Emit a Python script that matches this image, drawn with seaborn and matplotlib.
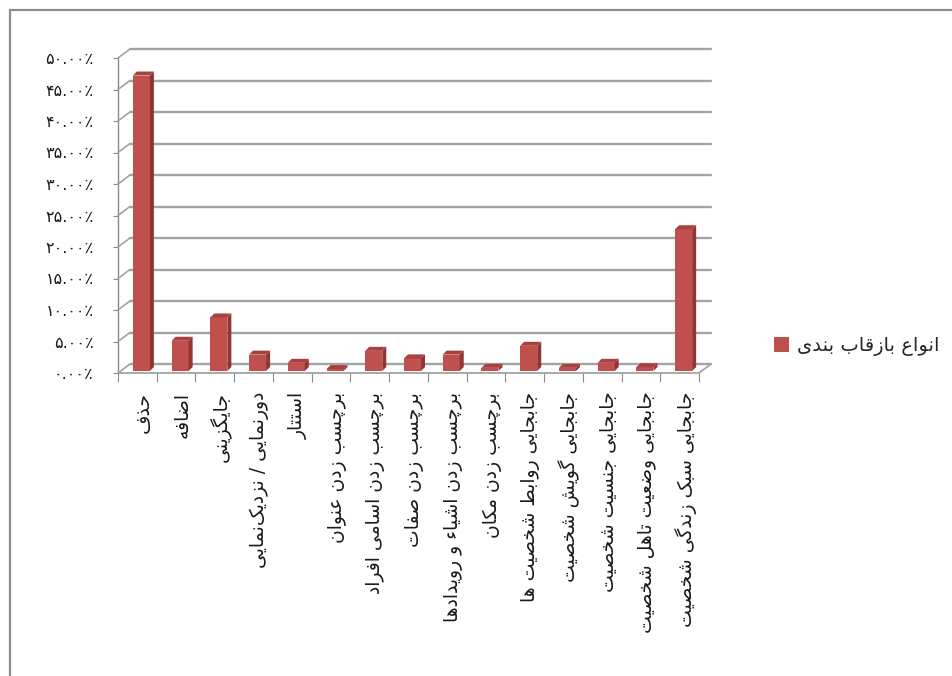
import numpy as np
import pandas as pd
import seaborn as sns
import matplotlib
matplotlib.use("Agg")
import matplotlib.pyplot as plt
from matplotlib.transforms import ScaledTranslation, IdentityTransform
from matplotlib.patches import Polygon, Rectangle, Patch
from matplotlib.ticker import FixedLocator

# ---------------- data ----------------
categories = [
    "حذف",
    "اضافه",
    "جایگزینی",
    "دورنمایی / نزدیک\u200cنمایی",
    "استتار",
    "برچسب زدن عنوان",
    "برچسب زدن اسامی افراد",
    "برچسب زدن صفات",
    "برچسب زدن اشیاء و رویدادها",
    "برچسب زدن مکان",
    "جابجایی روابط شخصیت ها",
    "جابجایی گویش شخصیت",
    "جابجایی جنسیت شخصیت",
    "جابجایی وضعیت تاهل شخصیت",
    "جابجایی سبک زندگی شخصیت",
]
values = [46.9, 4.8, 8.5, 2.6, 1.3, 0.3, 3.2, 2.0, 2.6, 0.5, 4.0, 0.5, 1.3, 0.6, 22.5]
y_ticks = [0, 5, 10, 15, 20, 25, 30, 35, 40, 45, 50]
y_tick_labels = ["۰.۰۰٪", "۵.۰۰٪", "۱۰.۰۰٪", "۱۵.۰۰٪", "۲۰.۰۰٪", "۲۵.۰۰٪",
                 "۳۰.۰۰٪", "۳۵.۰۰٪", "۴۰.۰۰٪", "۴۵.۰۰٪", "۵۰.۰۰٪"]
series_name = "انواع بازقاب بندی"

# ------------- Arabic/Persian shaping (presentation forms) -------------
# (isolated, final, initial, medial); right-joining letters have None for initial/medial
FORMS = {
    "ا": (0xFE8D, 0xFE8E, None, None),
    "ب": (0xFE8F, 0xFE90, 0xFE91, 0xFE92),
    "پ": (0xFB56, 0xFB57, 0xFB58, 0xFB59),
    "ت": (0xFE95, 0xFE96, 0xFE97, 0xFE98),
    "ج": (0xFE9D, 0xFE9E, 0xFE9F, 0xFEA0),
    "چ": (0xFB7A, 0xFB7B, 0xFB7C, 0xFB7D),
    "ح": (0xFEA1, 0xFEA2, 0xFEA3, 0xFEA4),
    "خ": (0xFEA5, 0xFEA6, 0xFEA7, 0xFEA8),
    "د": (0xFEA9, 0xFEAA, None, None),
    "ذ": (0xFEAB, 0xFEAC, None, None),
    "ر": (0xFEAD, 0xFEAE, None, None),
    "ز": (0xFEAF, 0xFEB0, None, None),
    "س": (0xFEB1, 0xFEB2, 0xFEB3, 0xFEB4),
    "ش": (0xFEB5, 0xFEB6, 0xFEB7, 0xFEB8),
    "ص": (0xFEB9, 0xFEBA, 0xFEBB, 0xFEBC),
    "ض": (0xFEBD, 0xFEBE, 0xFEBF, 0xFEC0),
    "ط": (0xFEC1, 0xFEC2, 0xFEC3, 0xFEC4),
    "ع": (0xFEC9, 0xFECA, 0xFECB, 0xFECC),
    "ف": (0xFED1, 0xFED2, 0xFED3, 0xFED4),
    "ق": (0xFED5, 0xFED6, 0xFED7, 0xFED8),
    "ک": (0xFB8E, 0xFB8F, 0xFB90, 0xFB91),
    "گ": (0xFB92, 0xFB93, 0xFB94, 0xFB95),
    "ل": (0xFEDD, 0xFEDE, 0xFEDF, 0xFEE0),
    "م": (0xFEE1, 0xFEE2, 0xFEE3, 0xFEE4),
    "ن": (0xFEE5, 0xFEE6, 0xFEE7, 0xFEE8),
    "ه": (0xFEE9, 0xFEEA, 0xFEEB, 0xFEEC),
    "و": (0xFEED, 0xFEEE, None, None),
    "ی": (0xFBFC, 0xFBFD, 0xFBFE, 0xFBFF),
}


def shape(text):
    out = []
    n = len(text)
    for i, ch in enumerate(text):
        if ch == "\u200c":
            continue
        if ch not in FORMS:
            out.append(ch)
            continue
        iso, fin, ini, med = FORMS[ch]
        prev = text[i - 1] if i > 0 else None
        nxt = text[i + 1] if i + 1 < n else None
        joins_prev = prev in FORMS and FORMS[prev][2] is not None
        joins_next = ini is not None and nxt in FORMS
        if joins_prev and joins_next:
            code = med
        elif joins_prev:
            code = fin
        elif joins_next:
            code = ini
        else:
            code = iso
        out.append(chr(code))
    return "".join(out)[::-1]


# ---------------- figure ----------------
sns.set_theme(style="white")
plt.rcParams["font.family"] = ["DejaVu Sans"]

W, H = 952, 676
fig = plt.figure(figsize=(W / 100, H / 100), dpi=100)
fig.patch.set_facecolor("white")

x0, x1, yb, yt = 118, 699, 373, 58
ax = fig.add_axes([x0 / W, 1 - yb / H, (x1 - x0) / W, (yb - yt) / H])
ax.set_facecolor("none")

shaped = [shape(c) for c in categories]
df = pd.DataFrame({"cat": shaped, "val": values})
bar_red = "#C0504D"
sns.barplot(data=df, x="cat", y="val", color=bar_red, width=0.44,
            saturation=1, edgecolor="none", ax=ax, zorder=3)
ax.set_xlim(-0.5, len(categories) - 0.5)
ax.set_ylim(0, 50)
ax.set_xlabel("")
ax.set_ylabel("")


def off(dx, dy):
    return ScaledTranslation(dx / 100, dy / 100, fig.dpi_scale_trans)


def disp(x, y):
    return ax.transData.transform((x, y))


grid_c = "#a3a3a3"
wall_dx, wall_dy = 12, 9
idt = IdentityTransform()

# back-wall gridlines and left-wall diagonals
for v in y_ticks:
    ax.plot([-0.5, len(categories) - 0.5], [v, v], color=grid_c, lw=1.7,
            transform=ax.transData + off(wall_dx, wall_dy), clip_on=False, zorder=1)
    px, py = disp(-0.5, v)
    fig.add_artist(plt.Line2D([px, px + wall_dx], [py, py + wall_dy], color=grid_c,
                              lw=1.2, transform=idt, zorder=1))

# floor front edge and right diagonal
px0, py0 = disp(-0.5, 0)
px1, py1 = disp(len(categories) - 0.5, 0)
fig.add_artist(plt.Line2D([px0, px1], [py0, py1], color=grid_c, lw=1.3, transform=idt, zorder=1))
fig.add_artist(plt.Line2D([px1, px1 + wall_dx], [py1, py1 + wall_dy], color=grid_c, lw=1.3,
                          transform=idt, zorder=1))

# 3D faces for the bars
bdx, bdy = 4, 2     # bar shift (mid-depth)
ddx, ddy = 4, 4     # bar depth
for p in ax.patches:
    p.set_transform(ax.transData + off(bdx, bdy))
    xl, ybot = disp(p.get_x(), 0)
    xr, ytop = disp(p.get_x() + p.get_width(), p.get_height())
    xl += bdx; xr += bdx; ybot += bdy; ytop += bdy
    side = Polygon([(xr, ybot), (xr + ddx, ybot + ddy), (xr + ddx, ytop + ddy), (xr, ytop)],
                   closed=True, facecolor="#8f3533", edgecolor="none", transform=idt, zorder=4)
    top = Polygon([(xl, ytop), (xl + ddx, ytop + ddy), (xr + ddx, ytop + ddy), (xr, ytop)],
                  closed=True, facecolor="#a8403d", edgecolor="none", transform=idt, zorder=4)
    fig.add_artist(side)
    fig.add_artist(top)

# spines / ticks
for s in ["top", "right", "bottom"]:
    ax.spines[s].set_visible(False)
ax.spines["left"].set_color("#8a8a8a")
ax.spines["left"].set_linewidth(1.0)

ax.set_yticks(y_ticks)
ax.set_yticklabels(y_tick_labels, fontsize=11.5, color="#1a1a1a")
ax.tick_params(axis="y", which="major", left=True, length=3.6, width=0.8, color="#8a8a8a",
               pad=14, direction="out")

ax.set_xticks(range(len(categories)))
ax.set_xticklabels(shaped, rotation=90, fontsize=13.5, color="#1a1a1a", va="top", ha="center")
ax.xaxis.set_minor_locator(FixedLocator(np.arange(-0.5, len(categories), 1.0)))
ax.tick_params(axis="x", which="major", bottom=True, length=0, pad=13.5)
ax.tick_params(axis="x", which="minor", bottom=True, length=6.5, width=0.8, color="#8a8a8a",
               direction="out")
for lbl in ax.get_xticklabels():
    lbl.set_transform(lbl.get_transform() + off(6, 0))

# legend
fig.legend(handles=[Patch(facecolor=bar_red, edgecolor="none")], labels=[shape(series_name)],
           loc="center left", bbox_to_anchor=(756 / W, 1 - 346 / H), frameon=False,
           fontsize=14, handlelength=0.78, handleheight=0.78, handletextpad=0.45)

# outer frame
fig.add_artist(Rectangle((10 / W, -0.1), 1.2, 1.1 - 10 / H, transform=fig.transFigure,
                         fill=False, edgecolor="#8c8c8c", linewidth=1.6, zorder=10))

fig.savefig("out.png", dpi=100, facecolor="white")
